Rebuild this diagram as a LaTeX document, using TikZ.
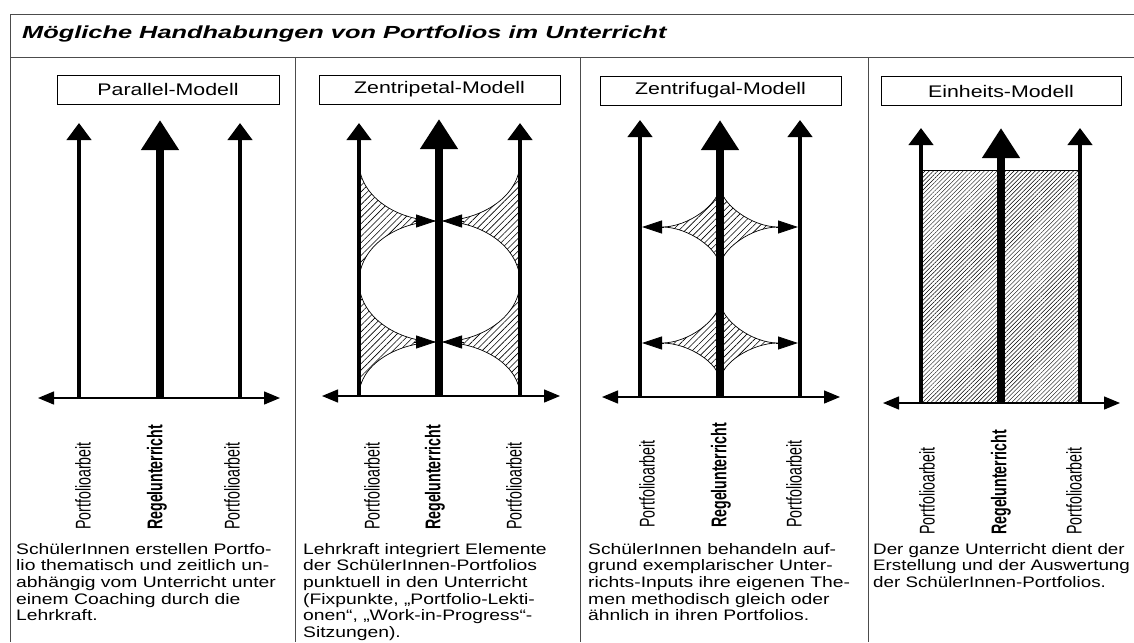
\documentclass[tikz,border=0pt]{standalone}
\usepackage{graphicx}
\usepackage{fontspec}
\setmainfont{Liberation Sans}[FakeStretch=1.27]
\newfontfamily\narrowbody{Liberation Sans}[FakeStretch=1.235]
\newfontfamily\uprightlabel{Liberation Sans}
\newfontfamily\headingfont{Liberation Sans}[FakeStretch=1.45]
\usepackage{tikz}
\usetikzlibrary{arrows.meta, patterns.meta}
\tikzstyle{borderline} = [draw=black!70, line width=1pt]
\tikzstyle{modelbox} = [rectangle, draw=black, line width=0.9pt, minimum height=29pt, inner sep=0pt, text centered, font=\fontsize{16.8}{18}\selectfont]
\tikzstyle{sidearrow} = [line width=4.5pt, -{Triangle[width=24pt, length=17pt]}]
\tikzstyle{mainarrow} = [line width=8.5pt, -{Triangle[width=36pt, length=30pt]}]
\tikzstyle{timeaxis} = [line width=1.4pt, {Triangle[width=13pt, length=16pt]}-{Triangle[width=13pt, length=16pt]}]
\tikzstyle{meetarrow} = [line width=0.8pt, -{Triangle[width=13pt, length=20pt]}]
\tikzstyle{hatchzone} = [draw=black, line width=0.7pt, pattern={Lines[angle=45, distance=4.5pt, line width=0.6pt]}]
\tikzstyle{densezone} = [draw=black, line width=0.7pt, pattern={Lines[angle=45, distance=3pt, line width=0.45pt]}]
\tikzstyle{desctext} = [anchor=north west, inner sep=0pt, align=left, font=\fontsize{15.2}{16.6}\selectfont]
\tikzstyle{vlabel} = [anchor=south, inner sep=0pt]
\newcommand{\uplabel}[1]{\scalebox{1.5}[1]{\rotatebox{90}{\uprightlabel\fontsize{14.2}{16}\selectfont #1}}}

\begin{document}
\begin{tikzpicture}[x=1pt, y=-1pt]
    \useasboundingbox (0,0) rectangle (1134,642);
    \fill [white] (0,0) rectangle (1134,642);
    % frame and panel dividers
    \draw [borderline] (1134,15) -- (10,15) -- (10,642);
    \draw [borderline] (10,58) -- (1134,58);
    \draw [borderline] (295,58) -- (295,642);
    \draw [borderline] (580,58) -- (580,642);
    \draw [borderline] (868,58) -- (868,642);
    \node (Heading) [anchor=base west, inner sep=0pt, font=\headingfont\bfseries\itshape\fontsize{17.5}{20}\selectfont] at (22,39) {Mögliche Handhabungen von Portfolios im Unterricht};

    % Parallel-Modell
    \node (Parallel) [modelbox, minimum width=222pt] at (168,89.5) {Parallel-Modell};
    \coordinate (ParStart) at (38,398);
    \coordinate (ParEnd) at (280,398);
    \coordinate (ParL) at (79,398);
    \coordinate (ParM) at (160,398);
    \coordinate (ParR) at (240,398);
    \draw [timeaxis] (ParStart) -- (ParEnd);
    \draw [sidearrow] (ParL) -- ++(0,-275);
    \draw [mainarrow] (ParM) -- ++(0,-278);
    \draw [sidearrow] (ParR) -- ++(0,-275);
    \node (ParLabL) [vlabel] at (83,530) {\uplabel{Portfolioarbeit}};
    \node (ParLabM) [vlabel] at (157,530) {\uplabel{\bfseries Regelunterricht}};
    \node (ParLabR) [vlabel] at (232,530) {\uplabel{Portfolioarbeit}};
    \node (ParText) [desctext] at (16,543) {SchülerInnen erstellen Portfo-\\lio thematisch und zeitlich un-\\abhängig vom Unterricht unter\\einem Coaching durch die\\Lehrkraft.};

    % Zentripetal-Modell
    \node (Zentripetal) [modelbox, minimum width=241pt] at (439.5,89.5) {Zentripetal-Modell};
    \draw [hatchzone] (359,162) .. controls (359,195) and (395,221) .. (439,221) .. controls (395,221) and (359,248) .. (359,282) -- cycle;
    \draw [hatchzone] (520,162) .. controls (520,195) and (483,221) .. (439,221) .. controls (483,221) and (520,248) .. (520,282) -- cycle;
    \draw [hatchzone] (359,282) .. controls (359,315) and (395,342) .. (439,342) .. controls (395,342) and (359,366) .. (359,396) -- cycle;
    \draw [hatchzone] (520,282) .. controls (520,315) and (483,342) .. (439,342) .. controls (483,342) and (520,366) .. (520,396) -- cycle;
    \coordinate (ZpStart) at (322,396);
    \coordinate (ZpEnd) at (560,396);
    \coordinate (ZpL) at (359,396);
    \coordinate (ZpM) at (439,396);
    \coordinate (ZpR) at (520,396);
    \draw [timeaxis] (ZpStart) -- (ZpEnd);
    \draw [sidearrow] (ZpL) -- ++(0,-273);
    \draw [mainarrow] (ZpM) -- ++(0,-277);
    \draw [sidearrow] (ZpR) -- ++(0,-273);
    \coordinate (ZpUpL) at (414,221);
    \coordinate (ZpUpR) at (464,221);
    \coordinate (ZpLowL) at (414,342);
    \coordinate (ZpLowR) at (464,342);
    \draw [meetarrow] (ZpUpL) -- ++(22,0);
    \draw [meetarrow] (ZpUpR) -- ++(-22,0);
    \draw [meetarrow] (ZpLowL) -- ++(22,0);
    \draw [meetarrow] (ZpLowR) -- ++(-22,0);
    \node (ZpLabL) [vlabel] at (372,530) {\uplabel{Portfolioarbeit}};
    \node (ZpLabM) [vlabel] at (435,530) {\uplabel{\bfseries Regelunterricht}};
    \node (ZpLabR) [vlabel] at (514,530) {\uplabel{Portfolioarbeit}};
    \node (ZpText) [desctext] at (303,543) {Lehrkraft integriert Elemente\\der SchülerInnen-Portfolios\\punktuell in den Unterricht\\(Fixpunkte, „Portfolio-Lekti-\\onen“, „Work-in-Progress“-\\Sitzungen).};

    % Zentrifugal-Modell
    \node (Zentrifugal) [modelbox, minimum width=241pt] at (720.5,90.5) {Zentrifugal-Modell};
    \draw [hatchzone] (720,185) .. controls (720,204) and (688,227) .. (662,227) .. controls (688,227) and (720,249) .. (720,268) .. controls (720,249) and (752,227) .. (778,227) .. controls (752,227) and (720,204) .. (720,185) -- cycle;
    \draw [hatchzone] (720,300) .. controls (720,320) and (688,343) .. (662,343) .. controls (688,343) and (720,363) .. (720,382) .. controls (720,363) and (752,343) .. (778,343) .. controls (752,343) and (720,320) .. (720,300) -- cycle;
    \coordinate (ZfStart) at (602,397);
    \coordinate (ZfEnd) at (840,397);
    \coordinate (ZfL) at (640,397);
    \coordinate (ZfM) at (720,397);
    \coordinate (ZfR) at (800,397);
    \draw [timeaxis] (ZfStart) -- (ZfEnd);
    \draw [sidearrow] (ZfL) -- ++(0,-277);
    \draw [mainarrow] (ZfM) -- ++(0,-277);
    \draw [sidearrow] (ZfR) -- ++(0,-277);
    \coordinate (ZfUpL) at (664,227);
    \coordinate (ZfUpR) at (776,227);
    \coordinate (ZfLowL) at (664,343);
    \coordinate (ZfLowR) at (776,343);
    \draw [meetarrow] (ZfUpL) -- ++(-22,0);
    \draw [meetarrow] (ZfUpR) -- ++(22,0);
    \draw [meetarrow] (ZfLowL) -- ++(-22,0);
    \draw [meetarrow] (ZfLowR) -- ++(22,0);
    \node (ZfLabL) [vlabel] at (647,528) {\uplabel{Portfolioarbeit}};
    \node (ZfLabM) [vlabel] at (721,528) {\uplabel{\bfseries Regelunterricht}};
    \node (ZfLabR) [vlabel] at (794,528) {\uplabel{Portfolioarbeit}};
    \node (ZfText) [desctext] at (588,543) {SchülerInnen behandeln auf-\\grund exemplarischer Unter-\\richts-Inputs ihre eigenen The-\\men methodisch gleich oder\\ähnlich in ihren Portfolios.};

    % Einheits-Modell
    \node (Einheit) [modelbox, minimum width=240pt] at (1001,91) {Einheits-Modell};
    \draw [densezone] (921,170) rectangle (1080,403);
    \coordinate (EhStart) at (883,403);
    \coordinate (EhEnd) at (1120,403);
    \coordinate (EhL) at (921,403);
    \coordinate (EhM) at (1001,403);
    \coordinate (EhR) at (1080,403);
    \draw [timeaxis] (EhStart) -- (EhEnd);
    \draw [sidearrow] (EhL) -- ++(0,-275);
    \draw [mainarrow] (EhM) -- ++(0,-275);
    \draw [sidearrow] (EhR) -- ++(0,-275);
    \node (EhLabL) [vlabel] at (927,535) {\uplabel{Portfolioarbeit}};
    \node (EhLabM) [vlabel] at (1001,535) {\uplabel{\bfseries Regelunterricht}};
    \node (EhLabR) [vlabel] at (1074,535) {\uplabel{Portfolioarbeit}};
    \node (EhText) [desctext, font=\narrowbody\fontsize{15.2}{16.6}\selectfont] at (873,543) {Der ganze Unterricht dient der\\Erstellung und der Auswertung\\der SchülerInnen-Portfolios.};
\end{tikzpicture}
\end{document}
